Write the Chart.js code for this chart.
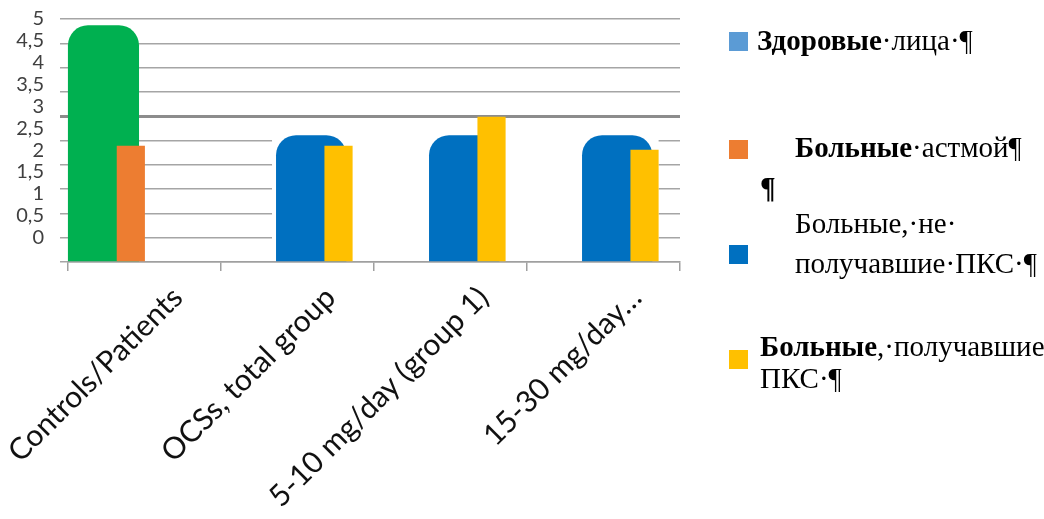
<!DOCTYPE html>
<html>
<head>
<meta charset="utf-8">
<script src="https://cdn.jsdelivr.net/npm/chart.js@4"></script>
<style>
  html, body { margin: 0; padding: 0; background: #fff; }
  #wrap { position: relative; width: 1044px; height: 519px; }
</style>
</head>
<body>
<div id="wrap"><canvas id="ocs_chart" width="1044" height="519"></canvas></div>
<script>
// categories and series
var categories = ["Controls/Patients", "OCSs, total group", "5-10 mg/day (group 1)", "15-30 mg/day\u2026"];
var seriesNames = ["Здоровые лица", "Больные астмой", "Больные, не получавшие ПКС", "Больные, получавшие ПКС"];
var healthy = [4.87, null, null, null];
var asthma = [2.39, null, null, null];
var noOcs = [null, 2.61, 2.61, 2.61];
var withOcs = [null, 2.39, 2.99, 2.31];
var yTickValues = [0, 0.5, 1, 1.5, 2, 2.5, 3, 3.5, 4, 4.5, 5];
var yTickLabels = ["0", "0,5", "1", "1,5", "2", "2,5", "3", "3,5", "4", "4,5", "5"];

var barColors = ["#00b050", "#ed7d31", "#0070c0", "#ffc000"];
var legendColors = ["#5b9bd5", "#ed7d31", "#0070c0", "#ffc000"];

// legend text as it stands in the picture (bold flags per piece)
var legendItems = [
    { box: [729, 32], lines: [{ x: 757, y: 50, parts: [["Здоровые", true], ["·лица·¶", false]] }] },
    { box: [729, 140], lines: [{ x: 795, y: 157, parts: [["Больные", true], ["·астмой¶", false]] }, { x: 760, y: 197, parts: [["¶", true]] }] },
    { box: [729, 245], lines: [{ x: 795, y: 233, parts: [["Больные,·не·", false]] }, { x: 795, y: 273, parts: [["получавшие·ПКС·¶", false]] }] },
    { box: [729, 350], lines: [{ x: 760, y: 356, parts: [["Больные", true], [",·получавшие", false]] }, { x: 760, y: 388, parts: [["ПКС·¶", false]] }] },
];

var orderPlugin = {
    id: "drawOrder",
    beforeDatasetsDraw(chart) {
        var ctx = chart.ctx,
            yScale = chart.scales.y,
            blue = chart.getDatasetMeta(2).data,
            yellow = chart.getDatasetMeta(3).data;
        // white patch behind the blue/yellow groups (hides the lower grid lines there)
        var x0 = blue[1].x - blue[1].width / 2 - 4,
            x1 = yellow[3].x + yellow[3].width / 2,
            top = Math.min(blue[1].y, blue[2].y, blue[3].y),
            bottom = yScale.getPixelForValue(0) - 1;
        ctx.save();
        ctx.fillStyle = "#fff";
        ctx.fillRect(x0, top, x1 - x0, bottom - top);
        ctx.restore();
        // wide bars first, narrow bars on top
        [0, 2, 1, 3].forEach(function (i) {
            chart.getDatasetMeta(i).controller.draw();
        });
        return false;
    },
    afterDraw(chart) {
        var ctx = chart.ctx;
        ctx.save();
        legendItems.forEach(function (item, i) {
            ctx.fillStyle = legendColors[i];
            ctx.fillRect(item.box[0], item.box[1], 19, 19);
            ctx.fillStyle = "#000";
            ctx.textBaseline = "alphabetic";
            item.lines.forEach(function (line) {
                var x = line.x;
                line.parts.forEach(function (p) {
                    ctx.font = (p[1] ? "bold " : "") + "29px 'Liberation Serif'";
                    ctx.fillText(p[0], x, line.y);
                    x += ctx.measureText(p[0]).width;
                });
            });
        });
        ctx.restore();
    },
};

function makeSet(idx, data, barPct) {
    return {
        label: seriesNames[idx],
        data: data,
        backgroundColor: barColors[idx],
        barPercentage: barPct,
        categoryPercentage: 0.715,
        borderRadius: barPct > 2 ? { topLeft: 20, topRight: 20 } : 0,
        borderSkipped: "bottom",
    };
}

var myChart = new Chart(document.getElementById("ocs_chart"), {
    type: "bar",
    data: {
        labels: categories,
        datasets: [makeSet(0, healthy, 2.6), makeSet(1, asthma, 1.03), makeSet(2, noOcs, 2.57), makeSet(3, withOcs, 1.03)],
    },
    options: {
        responsive: false,
        animation: false,
        layout: { padding: { top: 19, right: 364, left: 0, bottom: 0 } },
        plugins: { legend: { display: false }, tooltip: { enabled: false } },
        scales: {
            x: {
                ticks: {
                    autoSkip: false,
                    minRotation: 45,
                    maxRotation: 45,
                    labelOffset: 33,
                    padding: 9,
                    color: "#111",
                    font: { family: "Lato", size: 30 },
                },
                grid: { drawOnChartArea: false, drawTicks: true, tickLength: 9, color: "#a0a0a0", lineWidth: 1.5 },
                border: { color: "#a0a0a0", width: 1.5 },
                afterFit: function (s) {
                    s.height = 257;
                    s.paddingLeft = 0;
                    s.paddingRight = 0;
                },
            },
            y: {
                position: "left",
                weight: 0,
                min: 0,
                max: 5,
                ticks: { stepSize: 0.5, display: false },
                grid: {
                    tickLength: 8,
                    color: function (c) { return c.tick && c.tick.value === 3 ? "#8c8c8c" : "#a5a5a5"; },
                    lineWidth: function (c) { return c.tick && c.tick.value === 3 ? 3 : 1.5; },
                },
                border: { display: false },
                afterFit: function (s) { s.width = 20; },
            },
            yl: {
                type: "linear",
                position: "left",
                weight: 10,
                min: -0.56,
                max: 5,
                afterBuildTicks: function (s) { s.ticks = yTickValues.map(function (v) { return { value: v }; }); },
                ticks: {
                    autoSkip: false,
                    padding: 4,
                    color: "#404040",
                    font: { family: "Lato", size: 20 },
                    callback: function (v) { return yTickLabels[yTickValues.indexOf(v)]; },
                },
                grid: { display: false, drawTicks: false },
                border: { display: false },
                afterFit: function (s) { s.width = 48; },
            },
        },
    },
    plugins: [orderPlugin],
});
</script>
</body>
</html>
